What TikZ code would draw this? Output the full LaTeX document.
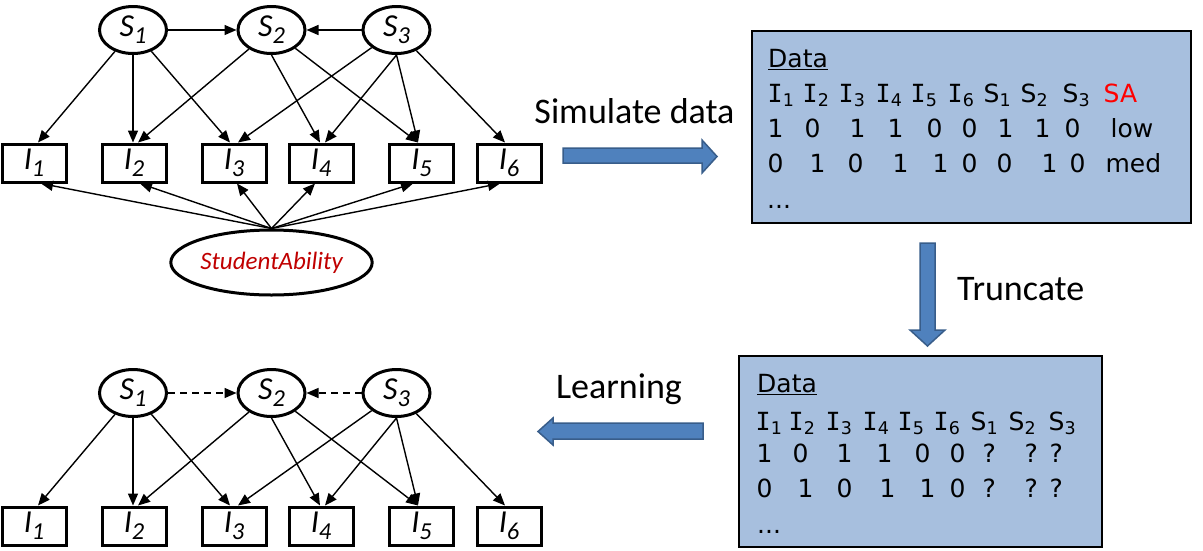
\documentclass[tikz,border=0pt]{standalone}
\usepackage{fontspec}
\setmainfont{Carlito}
\newfontfamily\comic{DejaVu Sans}
\newfontfamily\comicmono{DejaVu Sans Mono}
\usetikzlibrary{shapes.geometric,arrows.meta,calc}
\definecolor{boxblue}{HTML}{A7BFDE}
\definecolor{arrfill}{HTML}{4F81BD}
\definecolor{arrdraw}{HTML}{385D8A}
\definecolor{sared}{HTML}{C00000}
\newcommand\tk[2]{\rlap{\hspace*{#1pt}#2}}
\newcommand\myItm[1]{{\comicmono I}\textsubscript{#1}}
\newcommand\mySkl[1]{S\textsubscript{#1}}
\newcommand\gsub[1]{\raisebox{-0.22em}{\scalebox{0.76}{#1}}}
\newcommand\netlayer[3]{%
  \node[snode] (#1S1) at (133,30+#2) {S\gsub{1}};
  \node[snode] (#1S2) at (271.5,30+#2) {S\gsub{2}};
  \node[snode] (#1S3) at (396.5,30+#2) {S\gsub{3}};
  \node[inode] (#1I1) at (34,163+#2) {I\gsub{1}};
  \node[inode] (#1I2) at (134,163+#2) {I\gsub{2}};
  \node[inode] (#1I3) at (234,163+#2) {I\gsub{3}};
  \node[inode] (#1I4) at (321,163+#2) {I\gsub{4}};
  \node[inode] (#1I5) at (421.5,163+#2) {I\gsub{5}};
  \node[inode] (#1I6) at (509,163+#2) {I\gsub{6}};
  \draw[link,#3] (#1S1) -- (#1S2);
  \draw[link,#3] (#1S3) -- (#1S2);
  \draw[link] (#1S1) -- ($(#1I1.north)+(4,0)$);
  \draw[link] (#1S1.south) -- ($(#1I2.north)+(-1,0)$);
  \draw[link] (#1S1) -- ($(#1I3.north)+(-4,0)$);
  \draw[link] (#1S2) -- ($(#1I2.north)+(4,0)$);
  \draw[link] (#1S2.south) -- ($(#1I4.north)+(-1,0)$);
  \draw[link] (#1S2) -- ($(#1I5.north)+(-3.5,0)$);
  \draw[link] (#1S3) -- ($(#1I3.north)+(4,0)$);
  \draw[link] (#1S3.south) -- ($(#1I4.north)+(4,0)$);
  \draw[link] (#1S3.south) -- ($(#1I5.north)+(-3.5,0)$);
  \draw[link] (#1S3) -- ($(#1I6.north)+(-4,0)$);
}
\begin{document}
\begin{tikzpicture}[x=1pt,y=-1pt,
  snode/.style={ellipse,draw,line width=3pt,minimum width=67pt,minimum height=47pt,inner sep=0pt,
    font=\fontsize{32}{32}\selectfont\itshape},
  inode/.style={rectangle,draw,line width=3pt,minimum width=64pt,minimum height=38pt,inner sep=0pt,
    font=\fontsize{32}{32}\selectfont\itshape},
  link/.style={line width=1.4pt,-{Triangle[length=12pt,width=10pt]}},
  dashlink/.style={dash pattern=on 7pt off 5pt},
  sanode/.style={ellipse,draw,line width=3pt,minimum width=163pt,minimum height=65pt,inner sep=0pt,
    text=sared,font=\fontsize{25}{25}\selectfont\itshape},
  databox/.style={rectangle,draw,fill=boxblue,line width=2.5pt,inner sep=0pt},
  row/.style={anchor=base west,inner sep=0pt,font=\comic\fontsize{25}{25}\selectfont},
  lbl/.style={anchor=base,inner sep=0pt,font=\fontsize{36}{36}\selectfont},
  bigarrow/.style={fill=arrfill,draw=arrdraw,line width=1.5pt,line join=miter}
]
\useasboundingbox (0,0) rectangle (1203,550);

% top network
\netlayer{t}{0}{solid}
\node[sanode] (SA) at (271.5,262.5) {StudentAbility};
\draw[link] (SA.north) -- ($(tI1.south)+(7,0)$);
\draw[link] (SA.north) -- ($(tI2.south)+(6,0)$);
\draw[link] (SA.north) -- ($(tI3.south)+(3,0)$);
\draw[link] (SA.north) -- ($(tI4.south)+(-6,0)$);
\draw[link] (SA.north) -- ($(tI5.south)+(-8.5,0)$);
\draw[link] (SA.north) -- ($(tI6.south)+(-9,0)$);

% bottom network
\netlayer{b}{363}{dashlink}

% data box 1
\node[databox,minimum width=439pt,minimum height=192pt] (box1) at (971.5,127) {};
\node[row] (d1title) at (768,67) {\underline{Data}};
\node[row] (d1head) at (767,102) {\tk{0}{\myItm1}\tk{35}{\myItm2}\tk{71}{\myItm3}\tk{108}{\myItm4}\tk{143}{\myItm5}\tk{180}{\myItm6}\tk{216}{\mySkl1}\tk{253}{\mySkl2}\tk{295}{\mySkl3}\tk{336}{\textcolor{red}{SA}}};
\node[row] (d1r1) at (767,137) {\tk{0}{1}\tk{37}{0}\tk{82}{1}\tk{120}{1}\tk{159}{0}\tk{194}{0}\tk{230}{1}\tk{267}{1}\tk{297}{0}\tk{343}{low}};
\node[row] (d1r2) at (767,172) {\tk{0}{0}\tk{42}{1}\tk{80}{0}\tk{125}{1}\tk{165}{1}\tk{194}{0}\tk{229}{0}\tk{274}{1}\tk{302}{0}\tk{338}{med}};
\node[row] (d1dots) at (767,208) {...};

% data box 2
\node[databox,minimum width=363pt,minimum height=191pt] (box2) at (920.5,451.5) {};
\node[row] (d2title) at (757,392) {\underline{Data}};
\node[row] (d2head) at (755,430) {\tk{0}{\myItm1}\tk{33}{\myItm2}\tk{70}{\myItm3}\tk{107}{\myItm4}\tk{142}{\myItm5}\tk{178}{\myItm6}\tk{215}{\mySkl1}\tk{253}{\mySkl2}\tk{293}{\mySkl3}};
\node[row] (d2r1) at (755,462) {\tk{1}{1}\tk{37}{0}\tk{81}{1}\tk{121}{1}\tk{159}{0}\tk{194}{0}\tk{227}{?}\tk{269}{?}\tk{294}{?}};
\node[row] (d2r2) at (755,497) {\tk{1}{0}\tk{42}{1}\tk{81}{0}\tk{124}{1}\tk{164}{1}\tk{194}{0}\tk{227}{?}\tk{269}{?}\tk{294}{?}};
\node[row] (d2dots) at (757,533) {...};

% big arrows
\filldraw[bigarrow] (563,148) -- (702,148) -- (702,140) -- (717,156.5) -- (702,173) -- (702,163) -- (563,163) -- cycle;
\filldraw[bigarrow] (920,243) -- (935,243) -- (935,330) -- (945,330) -- (927.5,346) -- (910,330) -- (920,330) -- cycle;
\filldraw[bigarrow] (703,423) -- (553,423) -- (553,418) -- (538,431.5) -- (553,445) -- (553,439) -- (703,439) -- cycle;

% labels
\node[lbl] (simlbl) at (634.5,123) {Simulate data};
\node[lbl,anchor=base west] (trlbl) at (957,300) {Truncate};
\node[lbl] (lrlbl) at (619,398) {Learning};
\end{tikzpicture}
\end{document}
